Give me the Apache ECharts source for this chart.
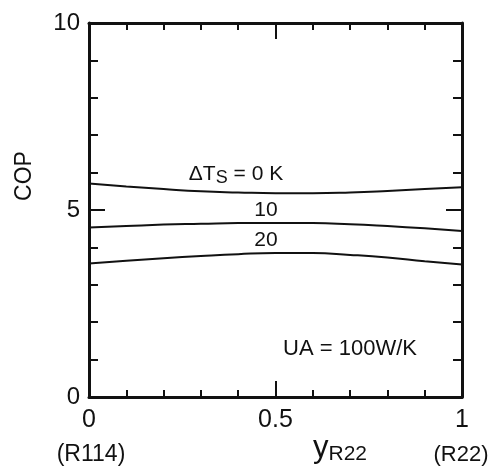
<!DOCTYPE html>
<html>
<head>
<meta charset="utf-8">
<script src="https://cdn.jsdelivr.net/npm/echarts@6/dist/echarts.min.js"></script>
<style>
html,body{margin:0;padding:0;background:#fff;}
#chart{width:493px;height:467px;}
</style>
</head>
<body>
<div id="chart"></div>
<script>
// Data
var xs = [0, 0.1, 0.2, 0.3, 0.4, 0.5, 0.6, 0.7, 0.8, 0.9, 1];
var cop0K  = [5.71, 5.63, 5.56, 5.50, 5.47, 5.45, 5.45, 5.47, 5.51, 5.56, 5.61];
var cop10K = [4.53, 4.57, 4.61, 4.63, 4.65, 4.65, 4.65, 4.62, 4.57, 4.51, 4.44];
var cop20K = [3.57, 3.64, 3.71, 3.77, 3.82, 3.85, 3.85, 3.80, 3.73, 3.63, 3.54];
var xTickLabels = ['0', '0.5', '1'];
var yTickLabels = ['0', '5', '10'];

var FONT = 'Liberation Sans';
var INK = '#111';

function pairs(vals) { return xs.map(function (x, i) { return [x, vals[i]]; }); }

function xAx(pos, interval, len, showLabel, showLine) {
  return {
    type: 'value', position: pos, min: 0, max: 1, interval: interval,
    splitLine: { show: false },
    axisLine: { show: showLine, onZero: false, lineStyle: { color: INK, width: 3 } },
    axisTick: { show: true, inside: true, length: len, lineStyle: { color: INK, width: 2 } },
    axisLabel: {
      show: showLabel, margin: 11, color: INK, fontFamily: FONT, fontSize: 25,
      formatter: function (v) { var s = String(+v.toFixed(1)); return xTickLabels.indexOf(s) >= 0 ? s : ''; }
    }
  };
}
function yAx(pos, interval, len, showLabel, showLine) {
  return {
    type: 'value', position: pos, min: 0, max: 10, interval: interval,
    splitLine: { show: false },
    axisLine: { show: showLine, onZero: false, lineStyle: { color: INK, width: 3 } },
    axisTick: { show: true, inside: true, length: len, lineStyle: { color: INK, width: 2 } },
    axisLabel: {
      show: showLabel, margin: 9, color: INK, fontFamily: FONT, fontSize: 24,
      formatter: function (v) { var s = String(v); return yTickLabels.indexOf(s) >= 0 ? s : ''; }
    }
  };
}

function txt(x, y, text, size, rot) {
  return { type: 'text', x: x, y: y, rotation: rot || 0,
    style: { text: text, fill: INK, fontSize: size, fontFamily: FONT, align: 'center', verticalAlign: 'middle' } };
}

var chart = echarts.init(document.getElementById('chart'), null, { renderer: 'canvas' });
var lineStyle = { color: INK, width: 2 };
chart.setOption({
  animation: false,
  backgroundColor: '#fff',
  grid: { left: 89, top: 23, right: 31, bottom: 70, containLabel: false },
  xAxis: [
    xAx('bottom', 0.5, 16, true, true),
    xAx('bottom', 0.1, 7, false, false),
    xAx('top', 0.5, 16, false, true),
    xAx('top', 0.1, 7, false, false)
  ],
  yAxis: [
    yAx('left', 5, 16, true, true),
    yAx('left', 1, 9, false, false),
    yAx('right', 5, 16, false, true),
    yAx('right', 1, 9, false, false)
  ],
  series: [
    { type: 'line', data: pairs(cop0K), smooth: true, symbol: 'none', lineStyle: lineStyle },
    { type: 'line', data: pairs(cop10K), smooth: true, symbol: 'none', lineStyle: lineStyle },
    { type: 'line', data: pairs(cop20K), smooth: true, symbol: 'none', lineStyle: lineStyle }
  ],
  graphic: [
    txt(25, 176, 'COP', 23, Math.PI / 2),
    txt(91, 455, '(R114)', 23),
    txt(461, 455, '(R22)', 22),
    { type: 'text', x: 340, y: 448,
      style: { text: '{y|y}{s|R22}', align: 'center', verticalAlign: 'middle',
        rich: { y: { fontSize: 31, fontFamily: FONT, fill: INK },
                s: { fontSize: 21, fontFamily: FONT, fill: INK, padding: [12, 0, 0, 0] } } } },
    { type: 'text', x: 236, y: 174,
      style: { text: '{n|ΔT}{s|S}{n| = 0 K}', align: 'center', verticalAlign: 'middle',
        rich: { n: { fontSize: 21, fontFamily: FONT, fill: INK },
                s: { fontSize: 18, fontFamily: FONT, fill: INK, padding: [9, 0, 0, 0] } } } },
    txt(266, 210, '10', 21),
    txt(266, 240, '20', 21),
    txt(350, 349, 'UA = 100W/K', 22)
  ]
});
</script>
</body>
</html>
